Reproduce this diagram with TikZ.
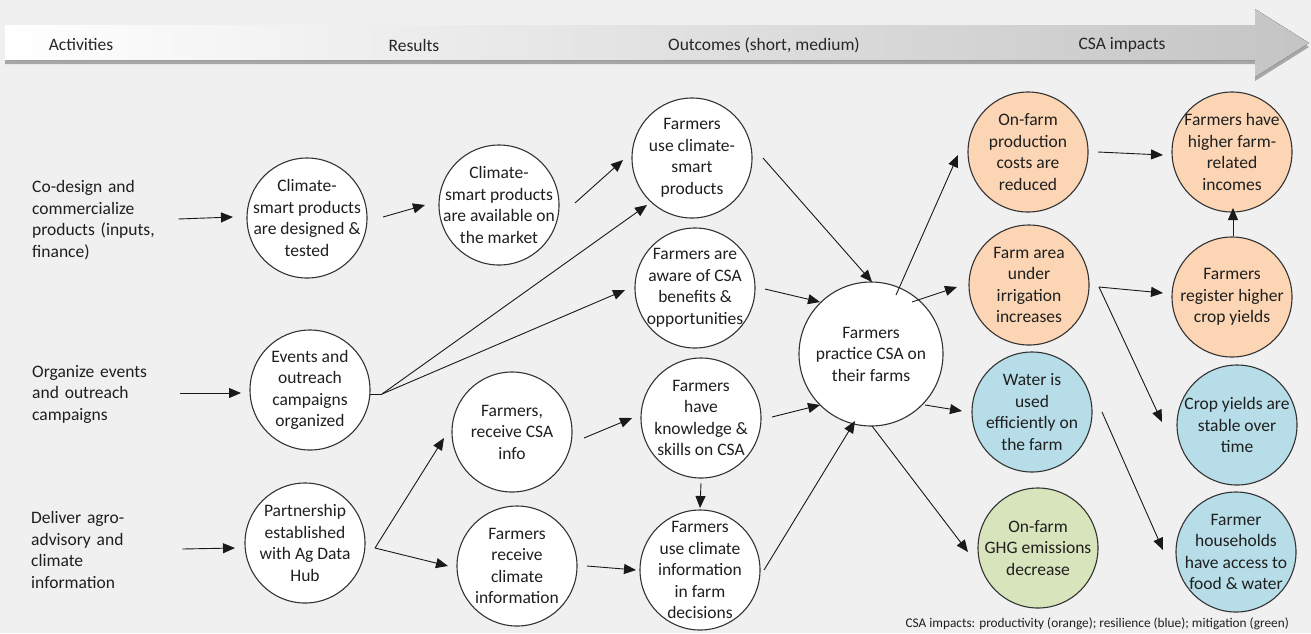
\documentclass[tikz,border=0pt]{standalone}
\usepackage{fontspec}
\setmainfont{Carlito}
\usetikzlibrary{calc,arrows.meta,shadows}
\definecolor{bgc}{HTML}{F0F0F0}
\definecolor{org}{HTML}{FCD5B4}
\definecolor{blu}{HTML}{B7DDE8}
\definecolor{grn}{HTML}{D7E4BC}
\newcommand{\mycirc}[4][white]{%
  \node[circ, fill=#1] (#2) at (#3) {};
  \node[ctext] (#2t) at (#2) {#4};}
\begin{document}
\begin{tikzpicture}[x=1pt,y=-1pt,
  circ/.style={circle, draw=black!80, line width=1.1pt, minimum size=120pt, inner sep=0pt},
  bigcirc/.style={minimum size=144pt},
  ctext/.style={align=center, font=\fontsize{17.5}{21.5}\selectfont, text=black!88, inner sep=0pt},
  ltext/.style={align=left, font=\fontsize{17.5}{21.5}\selectfont, text=black!88, text width=146pt, inner sep=0pt, anchor=west},
  hdr/.style={font=\fontsize{17.5}{20}\selectfont, text=black!85, inner sep=0pt},
  arr/.style={-{Triangle[length=12pt,width=10pt]}, line width=0.9pt, draw=black!90},
  ln/.style={line width=0.9pt, draw=black!90}
]
\useasboundingbox (0,0) rectangle (1311,633);
\fill[bgc] (0,0) rectangle (1311,633);

% header arrow
\fill[left color=white, right color=black!23,
      drop shadow={shadow xshift=0pt, shadow yshift=-4pt, opacity=0.3, fill=black}]
  (5,25) -- (1255,25) -- (1255,9) -- (1309,43) -- (1255,77) -- (1255,60) -- (5,60) -- cycle;
\node[hdr] (h1) at (81,45) {Activities};
\node[hdr] (h2) at (414,45) {Results};
\node[hdr] (h3) at (764,45) {Outcomes (short, medium)};
\node[hdr] (h4) at (1122,45) {CSA impacts};

% left activity texts
\node[ltext] (l1) at (32,220) {Co-design and\\commercialize\\products (inputs,\\finance)};
\node[ltext] (l2) at (32,394) {Organize events\\and outreach\\campaigns};
\node[ltext] (l3) at (31,550) {Deliver agro-\\advisory and\\climate\\information};

% circles
\mycirc{c1}{307,218}{Climate-\\smart products\\are designed \&\\tested}
\mycirc{c2}{499,205}{Climate-\\smart products\\are available on\\the market}
\mycirc{c3}{692,158}{Farmers\\use climate-\\smart\\products}
\mycirc{c4}{695,288}{Farmers are\\aware of CSA\\benefits \&\\opportunities}
\mycirc{c5}{310,390}{Events and\\outreach\\campaigns\\organized}
\mycirc{c6}{305,543}{Partnership\\established\\with Ag Data\\Hub}
\mycirc{c7}{512,432}{Farmers,\\receive CSA\\info}
\mycirc{c8}{517,566}{Farmers\\receive\\climate\\information}
\mycirc{c9}{701,418}{Farmers\\have\\knowledge \&\\skills on CSA}
\mycirc{c10}{700,570}{Farmers\\use climate\\information\\in farm\\decisions}
\node[circ, bigcirc, fill=white] (c11) at (871,354) {};
\node[ctext] (c11t) at (c11) {Farmers\\practice CSA on\\their farms};
\mycirc[org]{o1}{1028,152}{On-farm\\production\\costs are\\reduced}
\mycirc[org]{o2}{1232,152}{Farmers have\\higher farm-\\related\\incomes}
\mycirc[org]{o3}{1029,285}{Farm area\\under\\irrigation\\increases}
\mycirc[org]{o4}{1232,297}{Farmers\\register higher\\crop yields}
\mycirc[blu]{b1}{1032,412}{Water is\\used\\efficiently on\\the farm}
\mycirc[blu]{b2}{1237,425}{Crop yields are\\stable over\\time}
\mycirc[grn]{g1}{1038,548}{On-farm\\GHG emissions\\decrease}
\mycirc[blu]{b3}{1236,552}{Farmer\\households\\have access to\\food \& water}

% branch points
\coordinate (e) at ($(c5)+(72,4)$);
\coordinate (p) at ($(c6)+(70,5)$);
\coordinate (q) at ($(o3)+(70,2)$);

% connectors
\draw[arr] ($(l1.east)+(0,-1)$) -- ($(c1)+(-74,-1)$);
\draw[arr] ($(c1)+(76,-1)$) -- ($(c2)+(-74,0)$);
\draw[arr] ($(c2)+(76,-2)$) -- ($(c3)+(-69,2)$);
\draw[arr] ($(c3)+(71,0)$) -- ($(c11)+(1,-72)$);
\draw[arr] ($(c4)+(70,1)$) -- ($(c11)+(-51,-52)$);
\draw[arr] ($(l2.east)+(2,-1)$) -- ($(c5)+(-69,3)$);
\draw[ln] ($(c5)+(60,4)$) -- (e);
\draw[arr] (e) -- ($(c3)+(-45,47)$);
\draw[arr] (e) -- ($(c4)+(-70,2)$);
\draw[arr] ($(l3.east)+(5,-1)$) -- ($(c6)+(-70,5)$);
\draw[arr] (p) -- ($(c7)+(-68,6)$);
\draw[arr] (p) -- ($(c8)+(-69,0)$);
\draw[arr] ($(c7)+(72,6)$) -- ($(c9)+(-69,0)$);
\draw[arr] ($(c8)+(70,0)$) -- ($(c10)+(-64,0)$);
\draw[arr] ($(c9)+(0,65)$) -- ($(c10)+(0,-62)$);
\draw[arr] ($(c9)+(71,-1)$) -- ($(c11)+(-51,51)$);
\draw[arr] ($(c10)+(64,0)$) -- ($(c11)+(-16,67)$);
\draw[arr] ($(c11)+(25,-59)$) -- ($(o1)+(-70,3)$);
\draw[arr] ($(c11)+(41,-52)$) -- ($(o3)+(-72,2)$);
\draw[arr] ($(c11)+(54,51)$) -- ($(b1)+(-70,-1)$);
\draw[arr] ($(c11)+(1,72)$) -- ($(g1)+(-70,4)$);
\draw[arr] ($(o1)+(70,0)$) -- ($(o2)+(-69,3)$);
\draw[arr] ($(o4)+(1,-61)$) -- ($(o2)+(1,56)$);
\draw[arr] (q) -- ($(o4)+(-69,-4)$);
\draw[arr] (q) -- ($(b2)+(-75,-3)$);
\draw[arr] ($(b1)+(70,0)$) -- ($(b3)+(-73,-2)$);

% caption
\node[anchor=east, font=\fontsize{13.3}{15}\selectfont, text=black!88, inner sep=0pt] (cap) at (1289,624)
  {CSA impacts: productivity (orange); resilience (blue); mitigation (green)};
\end{tikzpicture}
\end{document}
